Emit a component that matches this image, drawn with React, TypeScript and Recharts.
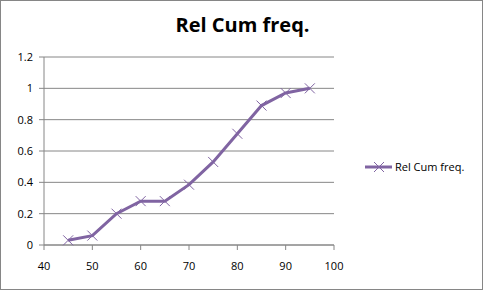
import { LineChart, Line, XAxis, YAxis, CartesianGrid } from 'recharts'

const SCORES = [45, 50, 55, 60, 65, 70, 75, 80, 85, 90, 95]
const REL_CUM = [0.03, 0.06, 0.2, 0.28, 0.28, 0.385, 0.53, 0.71, 0.89, 0.97, 1.0]
const X_TICKS = [40, 50, 60, 70, 80, 90, 100]
const Y_TICKS = [0, 0.2, 0.4, 0.6, 0.8, 1, 1.2]
const SERIES_NAME = 'Rel Cum freq.'

const PURPLE = '#8064A2'
const GRID = '#868686'
const FONT = '"Open Sans", "Noto Sans", sans-serif'

const data = SCORES.map((x, i) => ({ x, y: REL_CUM[i] }))

// marcador en forma de X como el de Excel
function CrossDot(props: { cx?: number; cy?: number; index?: number }) {
  const { cx, cy, index } = props
  if (cx == null || cy == null) return null
  const s = 5
  return (
    <g key={index}>
      <line x1={cx - s} y1={cy - s} x2={cx + s} y2={cy + s} stroke={PURPLE} strokeWidth={1} />
      <line x1={cx - s} y1={cy + s} x2={cx + s} y2={cy - s} stroke={PURPLE} strokeWidth={1} />
    </g>
  )
}

function LegendItem() {
  return (
    <div style={{ display: 'flex', alignItems: 'center', fontFamily: FONT, fontSize: 11, color: '#000' }}>
      <svg width={28} height={12}>
        <line x1={0} y1={6} x2={27} y2={6} stroke={PURPLE} strokeWidth={3} />
        <line x1={9} y1={1} x2={19} y2={11} stroke={PURPLE} strokeWidth={1} />
        <line x1={9} y1={11} x2={19} y2={1} stroke={PURPLE} strokeWidth={1} />
      </svg>
      <span style={{ marginLeft: 2 }}>{SERIES_NAME}</span>
    </div>
  )
}

export default function App() {
  return (
    <div style={{ position: 'fixed', left: 0, top: 0, width: 485, height: 291, background: '#fff' }}>
      <div
        style={{
          position: 'absolute', left: 0, top: 0, width: 481, height: 288,
          border: '1px solid #868686', boxSizing: 'content-box',
        }}
      />
      <div
        style={{
          position: 'absolute', left: 0, top: 11, width: 485, textAlign: 'center',
          fontFamily: FONT, fontWeight: 'bold', fontSize: 20, color: '#000',
        }}
      >
        {SERIES_NAME}
      </div>
      <div style={{ position: 'absolute', left: 0, top: 0 }}>
        <LineChart width={485} height={291} data={data} margin={{ top: 57, right: 151, left: 0, bottom: 0 }}>
          <CartesianGrid vertical={false} stroke={GRID} strokeWidth={1} />
          <XAxis
            dataKey="x"
            type="number"
            domain={[40, 100]}
            ticks={X_TICKS}
            height={46}
            stroke={GRID}
            tickSize={5}
            tick={{ fontSize: 11, fill: '#000', fontFamily: FONT }}
            tickMargin={12}
          />
          <YAxis
            type="number"
            domain={[0, 1.2]}
            ticks={Y_TICKS}
            width={44}
            stroke={GRID}
            tickSize={5}
            tick={{ fontSize: 11, fill: '#000', fontFamily: FONT }}
            tickMargin={6}
          />
          <Line
            type="linear"
            dataKey="y"
            name={SERIES_NAME}
            stroke={PURPLE}
            strokeWidth={3}
            dot={<CrossDot />}
            activeDot={false}
            isAnimationActive={false}
          />
        </LineChart>
      </div>
      <div style={{ position: 'absolute', left: 365, top: 159 }}>
        <LegendItem />
      </div>
    </div>
  )
}
